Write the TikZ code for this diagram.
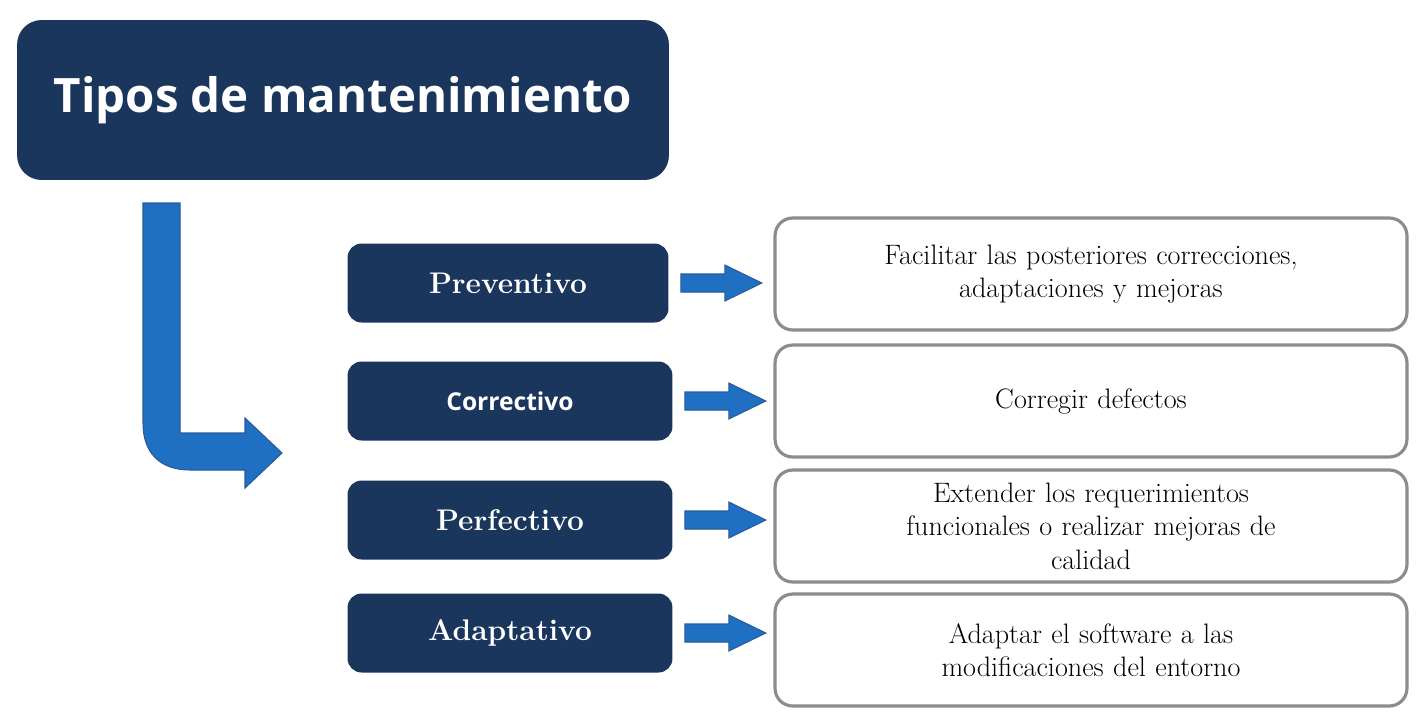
\documentclass[tikz,border=0pt]{standalone}
\usepackage{fontspec}
\setsansfont{Open Sans}
\usetikzlibrary{calc}
\definecolor{navy}{HTML}{1A365C}
\definecolor{arrblue}{HTML}{1F6FC3}
\definecolor{arredge}{HTML}{2A5A9A}
\tikzset{
  tipobox/.style={fill=navy, rounded corners=8pt, text=white, minimum height=1.58cm},
  descbox/.style={draw=gray!90, line width=1.8pt, fill=white, rounded corners=10pt,
    minimum width=12.64cm, minimum height=2.24cm, align=center, text width=12cm,
    font=\fontsize{16}{19}\selectfont},
  blockarrow/.style={fill=arrblue, draw=arredge, line width=0.6pt}
}
\newcommand{\smallarrow}[2]{%
  \path[blockarrow] ($(#1.east)+(12,-9)$) -- ++(44,0) -- ++(0,-9) -- ++(37,18)
    -- ++(-37,18) -- ++(0,-9) -- ++(-44,0) -- cycle;}
\begin{document}
\begin{tikzpicture}[x=0.02cm,y=-0.02cm]
\useasboundingbox (0,0) rectangle (1427,725);
% titulo
\node[tipobox, minimum width=13.04cm, minimum height=3.2cm, rounded corners=14pt,
  font=\sffamily\bfseries\fontsize{27}{30}\selectfont] (titulo) at (343,100) {Tipos de mantenimiento};
% flecha grande
\path[blockarrow] (143,203) -- (180,203) -- (180,433) -- (245,433) -- (245,418)
  -- (282,453) -- (245,488) -- (245,470) -- (190,470)
  .. controls (160,470) and (143,453) .. (143,423) -- cycle;
% tipos
\node[tipobox, minimum width=6.42cm, font=\bfseries\fontsize{17}{20}\selectfont] (pre) at (508,283) {Preventivo};
\node[tipobox, minimum width=6.5cm, font=\sffamily\bfseries\fontsize{14}{17}\selectfont] (cor) at (510,401) {Correctivo};
\node[tipobox, minimum width=6.5cm, font=\bfseries\fontsize{17}{20}\selectfont] (per) at (510,520) {Perfectivo};
\node[tipobox, minimum width=6.5cm, font=\bfseries\fontsize{17}{20}\selectfont] (ada) at (510,633) {Adaptativo};
% descripciones
\node[descbox] (dpre) at (1091,274) {Facilitar las posteriores correcciones,\\ adaptaciones y mejoras};
\node[descbox] (dcor) at (1091,401) {Corregir defectos};
\node[descbox] (dper) at (1091,526) {Extender los requerimientos\\ funcionales o realizar mejoras de\\ calidad};
\node[descbox] (dada) at (1091,650) {Adaptar el software a las\\ modificaciones del entorno};
% flechas
\smallarrow{pre}{dpre}
\smallarrow{cor}{dcor}
\smallarrow{per}{dper}
\smallarrow{ada}{dada}
\end{tikzpicture}
\end{document}
